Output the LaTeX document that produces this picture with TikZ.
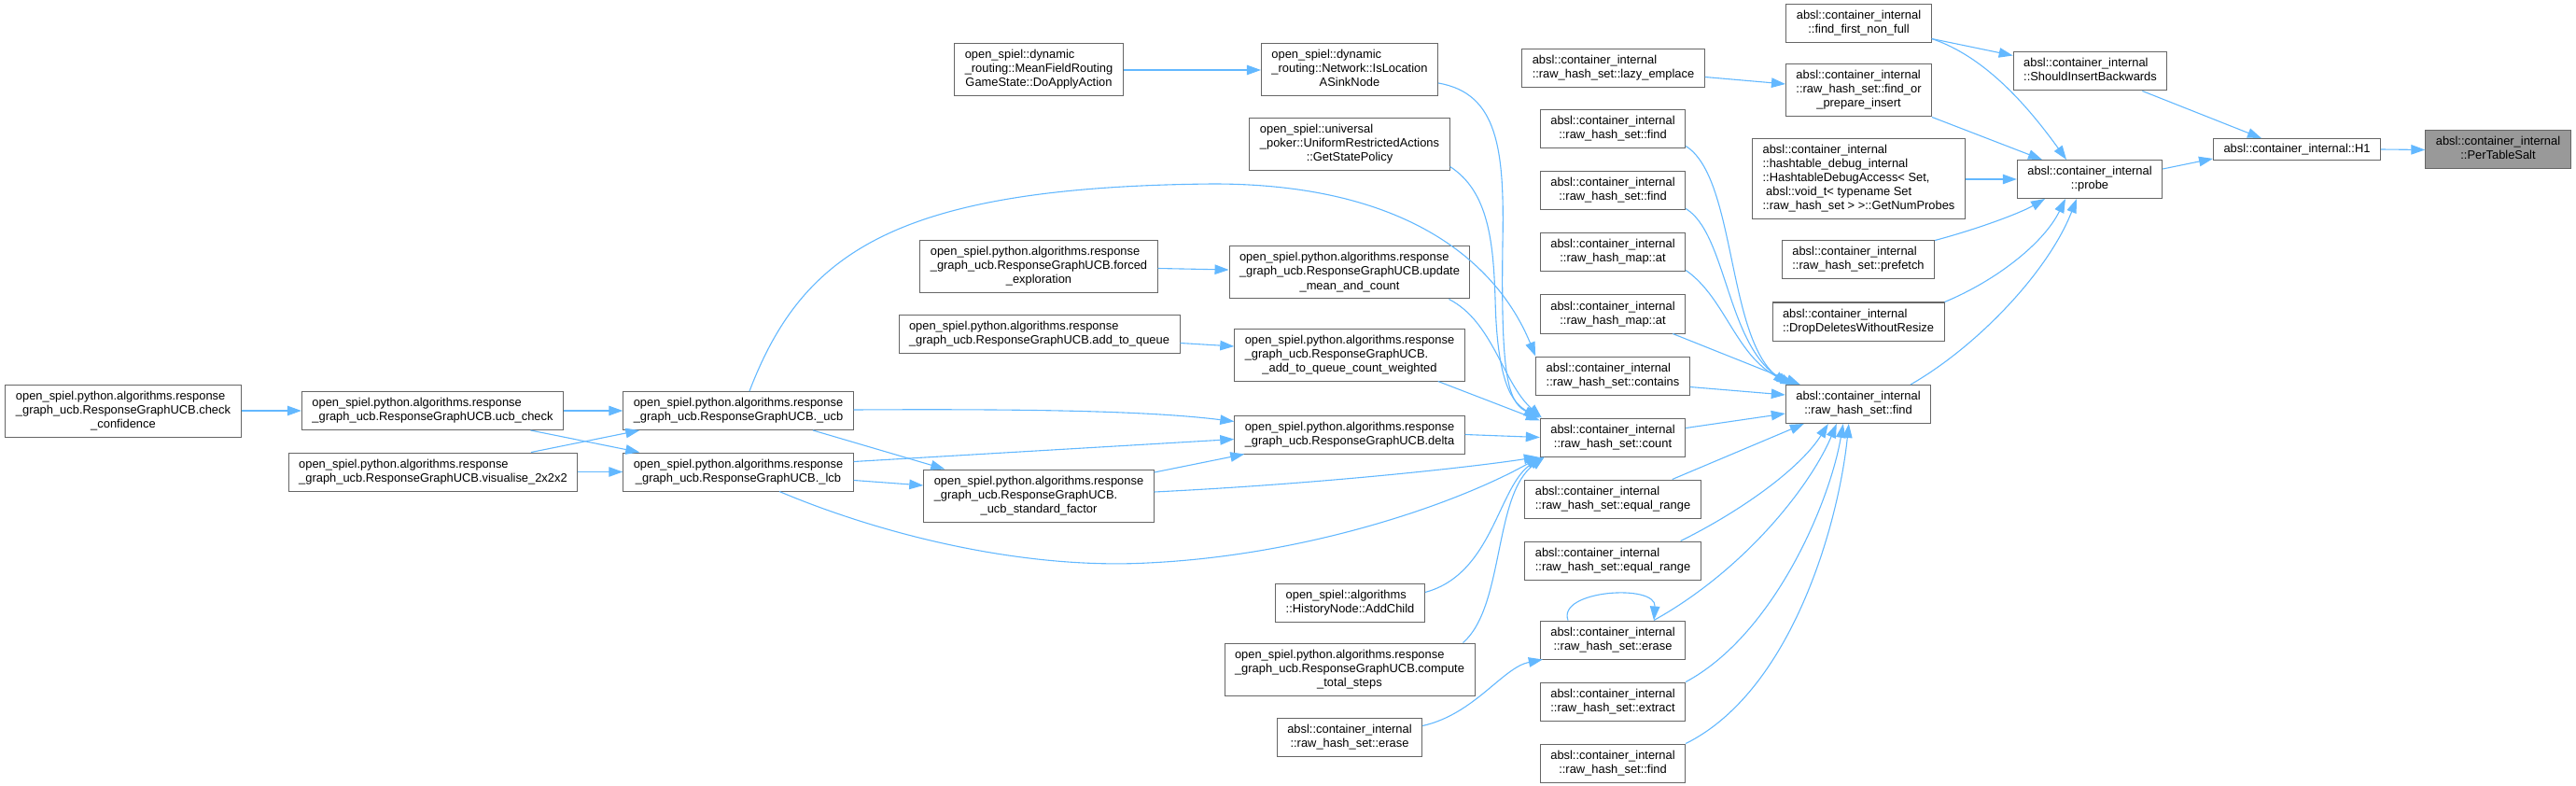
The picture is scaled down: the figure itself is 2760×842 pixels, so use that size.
\documentclass[tikz,border=0pt]{standalone}
\usepackage{fontspec}
\setmainfont{Liberation Sans}
\usetikzlibrary{arrows.meta,positioning}
\definecolor{edgeblue}{HTML}{63B8FF}
\definecolor{boxgray}{HTML}{666666}
\definecolor{hilite}{HTML}{999999}
\newcommand{\lbl}[2]{\begin{tabular}{@{}l@{}}#1\\\multicolumn{1}{@{}c@{}}{#2}\end{tabular}}

\begin{document}
\begin{tikzpicture}[
        x=1pt, y=-1pt,
        node distance=24pt,
        box/.style={draw=boxgray, fill=white, line width=1pt,
                    inner xsep=11pt, inner ysep=5.5pt,
                    font=\fontsize{12.9}{15}\selectfont},
        call/.style={-{Triangle[length=15pt,width=10.5pt]}, draw=edgeblue, line width=1.1pt}
    ]
        \useasboundingbox (0,0) rectangle (2760,842);

        \node[box] (check-conf) at (132,440)
            {\lbl{open\_spiel.python.algorithms.response\\\_graph\_ucb.ResponseGraphUCB.check}{\_confidence}};
        \node[box] (ucb-check) at (463.5,440)
            {\lbl{open\_spiel.python.algorithms.response}{\_graph\_ucb.ResponseGraphUCB.ucb\_check}};
        \node[box] (visualise) at (464,505.5)
            {\lbl{open\_spiel.python.algorithms.response}{\_graph\_ucb.ResponseGraphUCB.visualise\_2x2x2}};
        \node[box] (ucb) at (791,440)
            {\lbl{open\_spiel.python.algorithms.response}{\_graph\_ucb.ResponseGraphUCB.\_ucb}};
        \node[box] (lcb) at (791,505.5)
            {\lbl{open\_spiel.python.algorithms.response}{\_graph\_ucb.ResponseGraphUCB.\_lcb}};
        \node[box] (std-factor) at (1113,531)
            {\lbl{open\_spiel.python.algorithms.response\\\_graph\_ucb.ResponseGraphUCB.}{\_ucb\_standard\_factor}};
        \node[box] (do-apply) at (1113,75)
            {\lbl{open\_spiel::dynamic\\\_routing::MeanFieldRouting}{GameState::DoApplyAction}};
        \node[box] (forced) at (1113,285.5)
            {\lbl{open\_spiel.python.algorithms.response\\\_graph\_ucb.ResponseGraphUCB.forced}{\_exploration}};
        \node[box] (add-queue) at (1113.5,357.5)
            {\lbl{open\_spiel.python.algorithms.response}{\_graph\_ucb.ResponseGraphUCB.add\_to\_queue}};

        \node[box] (sink-node) at (1446,75)
            {\lbl{open\_spiel::dynamic\\\_routing::Network::IsLocation}{ASinkNode}};
        \node[box] (state-policy) at (1446,155)
            {\lbl{open\_spiel::universal\\\_poker::UniformRestrictedActions}{::GetStatePolicy}};
        \node[box] (update-mean) at (1446,292)
            {\lbl{open\_spiel.python.algorithms.response\\\_graph\_ucb.ResponseGraphUCB.update}{\_mean\_and\_count}};
        \node[box] (add-queue-w) at (1446,380)
            {\lbl{open\_spiel.python.algorithms.response\\\_graph\_ucb.ResponseGraphUCB.}{\_add\_to\_queue\_count\_weighted}};
        \node[box] (delta) at (1446,465.5)
            {\lbl{open\_spiel.python.algorithms.response}{\_graph\_ucb.ResponseGraphUCB.delta}};
        \node[box] (add-child) at (1446.5,645.5)
            {\lbl{open\_spiel::algorithms}{::HistoryNode::AddChild}};
        \node[box] (total-steps) at (1446,717)
            {\lbl{open\_spiel.python.algorithms.response\\\_graph\_ucb.ResponseGraphUCB.compute}{\_total\_steps}};
        \node[box] (erase-outer) at (1446,789.5)
            {\lbl{absl::container\_internal}{::raw\_hash\_set::erase}};

        \node[box] (lazy-emplace) at (1728.5,73.5)
            {\lbl{absl::container\_internal}{::raw\_hash\_set::lazy\_emplace}};
        \node[box] (find-a) at (1728,138.5)
            {\lbl{absl::container\_internal}{::raw\_hash\_set::find}};
        \node[box, below=of find-a] (find-b)
            {\lbl{absl::container\_internal}{::raw\_hash\_set::find}};
        \node[box, below=of find-b] (map-at-a)
            {\lbl{absl::container\_internal}{::raw\_hash\_map::at}};
        \node[box, below=of map-at-a] (map-at-b)
            {\lbl{absl::container\_internal}{::raw\_hash\_map::at}};
        \node[box, below=of map-at-b] (contains)
            {\lbl{absl::container\_internal}{::raw\_hash\_set::contains}};
        \node[box, below=of contains] (count)
            {\lbl{absl::container\_internal}{::raw\_hash\_set::count}};
        \node[box, below=of count] (range-a)
            {\lbl{absl::container\_internal}{::raw\_hash\_set::equal\_range}};
        \node[box, below=of range-a] (range-b)
            {\lbl{absl::container\_internal}{::raw\_hash\_set::equal\_range}};
        \node[box] (erase) at (1728,685.5)
            {\lbl{absl::container\_internal}{::raw\_hash\_set::erase}};
        \node[box, below=of erase] (extract)
            {\lbl{absl::container\_internal}{::raw\_hash\_set::extract}};
        \node[box, below=of extract] (find-c)
            {\lbl{absl::container\_internal}{::raw\_hash\_set::find}};

        \node[box] (first-non-full) at (1991.5,25.5)
            {\lbl{absl::container\_internal}{::find\_first\_non\_full}};
        \node[box] (find-or-insert) at (1991.5,97)
            {\lbl{absl::container\_internal\\::raw\_hash\_set::find\_or}{\_prepare\_insert}};
        \node[box] (num-probes) at (1991.5,192)
            {\lbl{absl::container\_internal\\::hashtable\_debug\_internal\\::HashtableDebugAccess< Set,\\\ absl::void\_t< typename Set}{::raw\_hash\_set > >::GetNumProbes}};
        \node[box] (prefetch) at (1991,278.5)
            {\lbl{absl::container\_internal}{::raw\_hash\_set::prefetch}};
        \node[box, below=of prefetch] (drop-deletes)
            {\lbl{absl::container\_internal}{::DropDeletesWithoutResize}};
        \node[box] (hash-find) at (1991,433)
            {\lbl{absl::container\_internal}{::raw\_hash\_set::find}};

        \node[box] (insert-back) at (2239.5,76.5)
            {\lbl{absl::container\_internal}{::ShouldInsertBackwards}};
        \node[box] (probe) at (2239,192)
            {\lbl{absl::container\_internal}{::probe}};
        \node[box] (h1) at (2461,160) {absl::container\_internal::H1};
        \node[box, fill=hilite] (salt) at (2676.5,160.5)
            {\lbl{absl::container\_internal}{::PerTableSalt}};

        \draw[call] (check-conf.east) -- (ucb-check.west);
        \draw[call] (ucb-check.east) -- (ucb.west);
        \draw[call] ([xshift=105pt]ucb-check.south) -- ([xshift=18pt]lcb.north west);
        \draw[call] ([xshift=105pt]visualise.north) -- ([xshift=18pt]ucb.south west);
        \draw[call] (visualise.east) -- (lcb.west);

        \draw[call] ([xshift=12pt]ucb.north) .. controls (860,270) and (960,200) .. (1300,197)
            .. controls (1530,197) and (1612,300) .. (contains.north west);
        \draw[call] ([xshift=80pt]ucb.south) -- ([xshift=23pt]std-factor.north west);
        \draw[call] ([yshift=1pt]ucb.east) .. controls (1100,438) and (1230,440) .. ([yshift=14pt]delta.west);
        \draw[call] ([yshift=11pt]lcb.east) -- ([yshift=-5pt]delta.west);
        \draw[call] ([yshift=-9pt]lcb.east) -- ([yshift=11pt]std-factor.west);
        \draw[call] ([xshift=44pt]lcb.south) .. controls (950,575) and (1100,610) .. (1230,603)
            .. controls (1400,595) and (1560,540) .. (count.south west);
        \draw[call] ([yshift=25pt]std-factor.east) -- ([xshift=11pt]delta.south west);
        \draw[call] ([yshift=4pt]std-factor.east) .. controls (1420,518) and (1580,500) .. ([xshift=-2pt]count.south west);

        \draw[call] (do-apply.east) -- (sink-node.west);
        \draw[call] ([yshift=-2pt]forced.east) -- ([yshift=3pt]update-mean.west);
        \draw[call] ([yshift=-10pt]add-queue.east) -- ([yshift=9pt]add-queue-w.west);

        \draw[call] ([yshift=-14pt]sink-node.east) .. controls (1605,100) and (1612,160) .. (1610,260)
            .. controls (1608,400) and (1615,430) .. ([xshift=-2pt]count.north west);
        \draw[call] ([yshift=5pt]state-policy.south east) .. controls (1595,205) and (1600,260) .. (1602,320)
            .. controls (1604,410) and (1620,432) .. (count.north west);
        \draw[call] ([xshift=-23pt]update-mean.south east) .. controls (1600,345) and (1610,410) .. ([xshift=2pt]count.north west);
        \draw[call] ([xshift=-29pt]add-queue-w.south east) -- ([yshift=-3pt]count.north west);
        \draw[call] (delta.east) -- (count.west);
        \draw[call] ([yshift=11pt]add-child.east) .. controls (1600,615) and (1605,520) .. ([xshift=3pt]count.south west);
        \draw[call] ([xshift=-13pt]total-steps.north east) .. controls (1612,650) and (1600,530) .. ([xshift=5pt]count.south west);
        \draw[call] ([yshift=12pt]erase-outer.east) .. controls (1580,765) and (1610,715) .. ([xshift=3pt]erase.south west);
        \draw[call] ([xshift=-48pt]erase.north) .. controls (1668,632) and (1775,625) .. ([xshift=44pt]erase.north);

        \draw[call] ([yshift=-9pt]lazy-emplace.east) -- ([yshift=7pt]find-or-insert.west);
        \draw[call] ([yshift=-18pt]find-a.east) .. controls (1860,190) and (1850,360) .. ([xshift=2pt]hash-find.north west);
        \draw[call] ([yshift=-19pt]find-b.east) .. controls (1850,250) and (1850,370) .. ([xshift=6pt]hash-find.north west);
        \draw[call] ([yshift=-19pt]map-at-a.east) .. controls (1850,320) and (1860,385) .. ([xshift=10pt]hash-find.north west);
        \draw[call] ([xshift=-14pt]map-at-b.south east) -- ([xshift=16pt]hash-find.north west);
        \draw[call] ([yshift=-12pt]contains.east) -- ([yshift=10pt]hash-find.west);
        \draw[call] ([yshift=10pt]count.east) -- ([yshift=-10pt]hash-find.west);
        \draw[call] ([xshift=-31pt]range-a.north east) -- ([xshift=20pt]hash-find.south west);
        \draw[call] ([xshift=-22pt]range-b.north east) .. controls (1870,545) and (1930,500) .. ([xshift=46pt]hash-find.south west);
        \draw[call] ([xshift=44pt]erase.north) .. controls (1870,610) and (1940,520) .. ([xshift=55pt]hash-find.south west);
        \draw[call] (extract.north east) .. controls (1900,680) and (1960,540) .. ([xshift=62pt]hash-find.south west);
        \draw[call] (find-c.north east) .. controls (1920,740) and (1970,560) .. ([xshift=68pt]hash-find.south west);

        \draw[call] ([xshift=56pt]hash-find.north) .. controls (2120,370) and (2195,290) .. ([xshift=-14pt]probe.south);
        \draw[call] ([yshift=-16pt]first-non-full.east) .. controls (2125,60) and (2170,110) .. ([xshift=-25pt]probe.north);
        \draw[call] ([yshift=-16pt]first-non-full.east) -- ([yshift=17pt]insert-back.west);
        \draw[call] (find-or-insert.south east) -- ([xshift=-51pt]probe.north);
        \draw[call] (num-probes.east) -- (probe.west);
        \draw[call] (prefetch.north east) .. controls (2120,245) and (2165,228) .. ([xshift=-48pt]probe.south);
        \draw[call] (drop-deletes.north east) .. controls (2140,300) and (2190,260) .. ([xshift=-26pt]probe.south);
        \draw[call] ([xshift=-27pt]insert-back.south east) -- ([xshift=-38pt]h1.north);
        \draw[call] ([yshift=11pt]probe.east) -- ([yshift=2pt]h1.south west);
        \draw[call] (h1.east) -- (salt.west);
    \end{tikzpicture}
\end{document}
